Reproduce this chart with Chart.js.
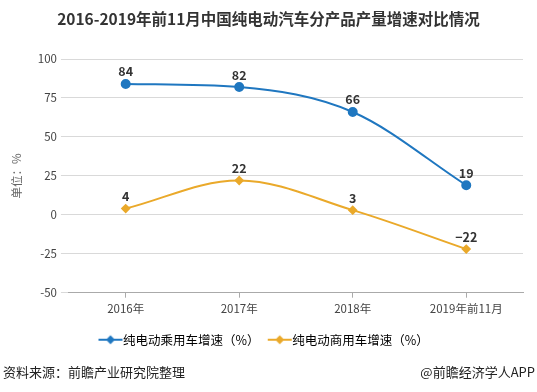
<!DOCTYPE html>
<html><head><meta charset="utf-8">
<script src="https://cdn.jsdelivr.net/npm/chart.js@4.4.0/dist/chart.umd.min.js"></script>
<style>
html,body{margin:0;padding:0;background:#fff;width:537px;height:392px;overflow:hidden;font-family:"Microsoft YaHei","Noto Sans CJK SC",sans-serif;}
#title{position:absolute;left:0;top:8px;width:537px;text-align:center;font-size:15.5px;font-weight:bold;color:#333;line-height:20px;}
#wrap{position:absolute;left:0;top:0;width:537px;height:392px;}
#src{position:absolute;left:3px;top:362px;font-size:13px;color:#222;}
#brand{position:absolute;right:2px;top:362px;font-size:13px;color:#222;}
</style></head>
<body>
<div id="wrap"><canvas id="c" width="537" height="392"></canvas></div>
<div id="title">2016-2019年前11月中国纯电动汽车分产品产量增速对比情况</div>
<div id="src">资料来源：前瞻产业研究院整理</div>
<div id="brand">@前瞻经济学人APP</div>
<script>
const categories = ['2016年','2017年','2018年','2019年前11月'];
const passengerGrowth = [84, 82, 66, 19];
const commercialGrowth = [4, 22, 3, -22];
const seriesNames = ['纯电动乘用车增速（%）','纯电动商用车增速（%）'];
const yTicks = [100, 75, 50, 25, 0, -25, -50];

const BLUE = '#1f77c0';
const GOLD = '#eaa92a';
const FONT = '"Microsoft YaHei","Noto Sans CJK SC",sans-serif';

function legendIcon(color){
  const c = document.createElement('canvas');
  c.width = 26; c.height = 12;
  const x = c.getContext('2d');
  x.strokeStyle = color; x.lineWidth = 2;
  x.beginPath(); x.moveTo(1,6); x.lineTo(25,6); x.stroke();
  x.fillStyle = color;
  x.beginPath();
  x.moveTo(13,1.5); x.lineTo(17.5,6); x.lineTo(13,10.5); x.lineTo(8.5,6); x.closePath();
  x.fill();
  return c;
}
const icons = [legendIcon(BLUE), legendIcon(GOLD)];

const labelPlugin = {
  id: 'valueLabels',
  afterDatasetsDraw(chart){
    const ctx = chart.ctx;
    ctx.save();
    ctx.font = 'bold 12.5px ' + FONT;
    ctx.fillStyle = '#333';
    ctx.textAlign = 'center';
    ctx.textBaseline = 'bottom';
    chart.data.datasets.forEach((ds, i) => {
      chart.getDatasetMeta(i).data.forEach((pt, j) => {
        const v = ds.data[j];
        ctx.fillText(v < 0 ? '\u2212' + Math.abs(v) : String(v), pt.x, pt.y - 6);
      });
    });
    ctx.restore();
  }
};

new Chart(document.getElementById('c'), {
  type: 'line',
  data: {
    labels: categories,
    datasets: [
      { label: seriesNames[0], data: passengerGrowth, borderColor: BLUE, backgroundColor: BLUE,
        borderWidth: 2, pointRadius: 4, pointStyle: 'circle', cubicInterpolationMode: 'monotone' },
      { label: seriesNames[1], data: commercialGrowth, borderColor: GOLD, backgroundColor: GOLD,
        borderWidth: 2, pointRadius: 3.5, pointStyle: 'rectRot', tension: 0.35 }
    ]
  },
  options: {
    responsive: false,
    animation: false,
    devicePixelRatio: 1,
    layout: { padding: { top: 59, left: 10, right: 14, bottom: 36 } },
    plugins: {
      legend: {
        position: 'bottom',
        labels: {
          usePointStyle: true,
          color: '#333',
          font: { family: FONT, size: 12.5 },
          padding: 14,
          generateLabels(chart){
            return chart.data.datasets.map((ds, i) => ({
              text: ds.label, pointStyle: icons[i], datasetIndex: i,
              fillStyle: ds.borderColor, strokeStyle: ds.borderColor, lineWidth: 0, hidden: false
            }));
          }
        }
      },
      tooltip: { enabled: false },
      title: { display: false }
    },
    scales: {
      x: {
        offset: true,
        grid: { display: true, drawOnChartArea: false, drawTicks: true, tickLength: 5, offset: false, color: '#aaa' },
        border: { color: '#aaa' },
        ticks: { color: '#444', font: { family: FONT, size: 11.5 }, padding: 4 }
      },
      y: {
        min: -50, max: 100,
        afterBuildTicks(axis){ axis.ticks = yTicks.map(v => ({ value: v })); },
        grid: { color: '#d9d9d9', drawTicks: true, tickLength: 8 },
        border: { display: false },
        ticks: { color: '#444', font: { family: FONT, size: 11.5 }, padding: 4 },
        title: { display: true, text: '单位：%', color: '#666', font: { family: FONT, size: 11.5 }, padding: { top: 0, bottom: 10 } }
      }
    }
  },
  plugins: [labelPlugin]
});
</script>
</body></html>
